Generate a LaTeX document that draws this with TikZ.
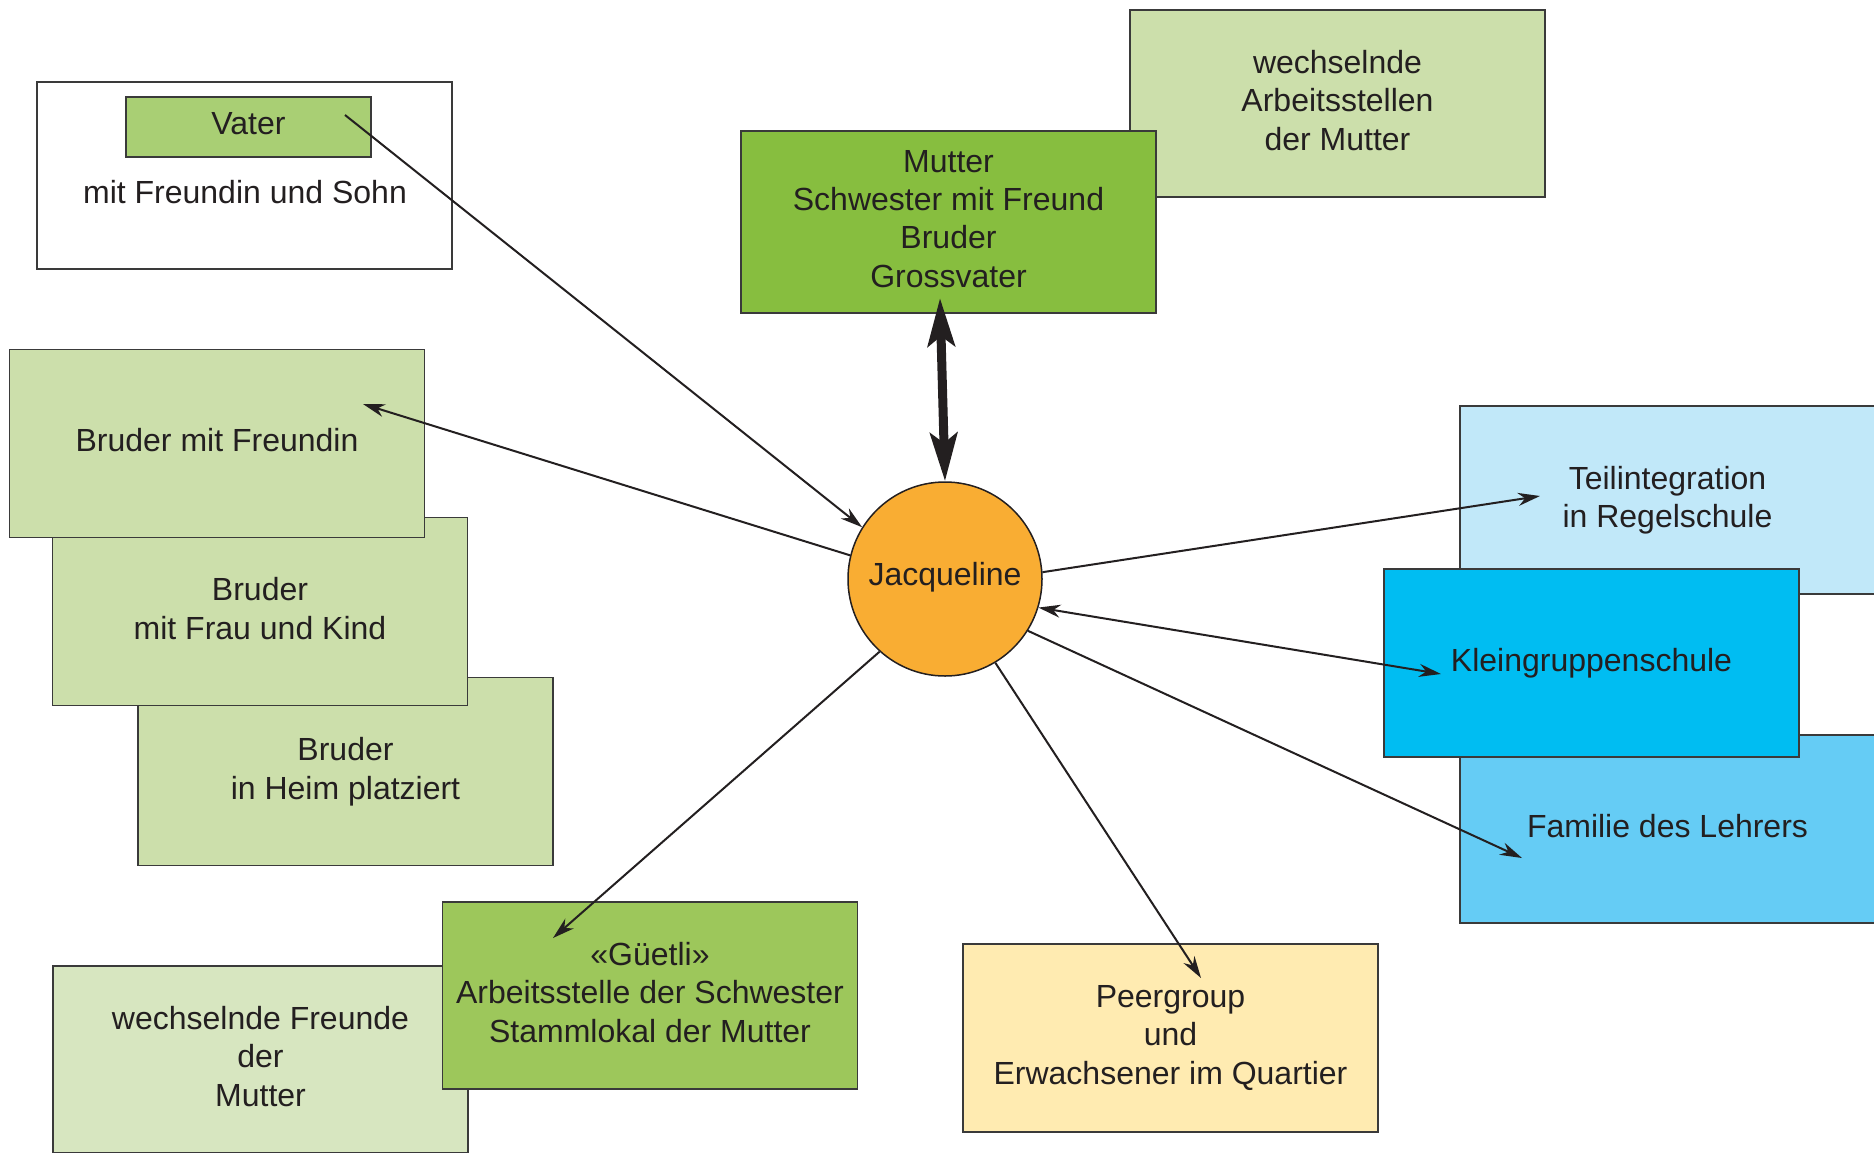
\documentclass[tikz,border=0pt]{standalone}
\usepackage{fontspec}
\setmainfont{Liberation Sans}
\usetikzlibrary{arrows.meta}
\definecolor{txt}{HTML}{231F20}
\definecolor{bordc}{HTML}{3A3A3A}
\definecolor{vatergreen}{HTML}{A9CF74}
\definecolor{muttergreen}{HTML}{87BE3F}
\definecolor{lightgreen}{HTML}{CCDFAB}
\definecolor{palegreen}{HTML}{D7E6C0}
\definecolor{guetligreen}{HTML}{9DC75B}
\definecolor{jorange}{HTML}{F9AD33}
\definecolor{peeryellow}{HTML}{FFEBB1}
\definecolor{blueA}{HTML}{C1E8F9}
\definecolor{blueB}{HTML}{00BDF2}
\definecolor{blueC}{HTML}{65CCF5}
\begin{document}
\begin{tikzpicture}[x=1pt,y=-1pt,
  box/.style={draw=bordc, line width=1.5pt, inner sep=0pt, minimum width=415pt,
    minimum height=188pt, align=center, text=txt, text depth=6.5pt,
    font=\fontsize{32}{38.4}\selectfont},
  lbl/.style={inner sep=0pt, align=center, text=txt, font=\fontsize{32}{38.4}\selectfont},
  arr/.style={draw=txt, line width=2pt, -{Stealth[length=22pt,width=13pt,inset=7pt]}},
  darr/.style={draw=txt, line width=2pt, {Stealth[length=22pt,width=13pt,inset=7pt]}-{Stealth[length=22pt,width=13pt,inset=7pt]}},
  bigarr/.style={draw=txt, line width=9pt, {Stealth[length=48pt,width=27pt,inset=10pt]}-{Stealth[length=48pt,width=27pt,inset=10pt]}}
]
\useasboundingbox[fill=white] (0,0) rectangle (1874,1152);

% top
\node[box, fill=lightgreen, minimum height=187pt] (arbeit) at (1337.5,103.5) {wechselnde\\Arbeitsstellen\\der Mutter};
\node[box, fill=muttergreen, minimum height=182pt] (mutter) at (948.5,222) {Mutter\\Schwester mit Freund\\Bruder\\Grossvater};

% Vater
\node[box, fill=white, minimum height=187pt] (vbox) at (244.5,175.5) {};
\node[box, fill=vatergreen, minimum width=245pt, minimum height=60pt] (vater) at (248.5,127) {Vater};
\node[lbl] (vtext) at (245,192) {mit Freundin und Sohn};

% brothers
\node[box, fill=lightgreen] (bheim) at (345.5,771.5) {Bruder\\in Heim platziert};
\node[box, fill=lightgreen] (bfrau) at (260,611.5) {Bruder\\mit Frau und Kind};
\node[box, fill=lightgreen] (bfreundin) at (217,443.5) {Bruder mit Freundin};

% school
\node[box, fill=blueA] (teil) at (1667.5,500) {Teilintegration\\in Regelschule};
\node[box, fill=blueC] (familie) at (1667.5,829) {Familie des Lehrers};
\node[box, fill=blueB] (klein) at (1591.5,663) {Kleingruppenschule};

% bottom
\node[box, fill=palegreen, minimum height=187pt] (freunde) at (260.5,1059.5) {wechselnde Freunde\\der\\Mutter};
\node[box, fill=guetligreen, minimum height=187pt] (guetli) at (650,995.5) {«Güetli»\\Arbeitsstelle der Schwester\\Stammlokal der Mutter};
\node[box, fill=peeryellow] (peer) at (1170.5,1038) {Peergroup\\und\\Erwachsener im Quartier};

% centre
\node[circle, draw=txt, line width=1.5pt, fill=jorange, minimum size=194pt, inner sep=0pt,
  text=txt, text depth=11pt, font=\fontsize{32}{38.4}\selectfont] (J) at (945,579) {Jacqueline};

% connector ends
\coordinate (vA) at (345,115);
\coordinate (mA) at (940,298);
\coordinate (bfA) at (363,404);
\coordinate (tA) at (1540,496);
\coordinate (kA) at (1441,674);
\coordinate (fA) at (1522,858);
\coordinate (pA) at (1201,978);
\coordinate (gA) at (553,938);

\draw[bigarr] (mA) -- (J.north);
\draw[arr] (vA) -- (J.148.6);
\draw[arr] (J.166.5) -- (bfA);
\draw[arr] (J.4.7) -- (tA);
\draw[darr] (J.-17) -- (kA);
\draw[arr] (J.-32) -- (fA);
\draw[arr] (J.-59.5) -- (pA);
\draw[arr] (J.-132) -- (gA);
\end{tikzpicture}
\end{document}
